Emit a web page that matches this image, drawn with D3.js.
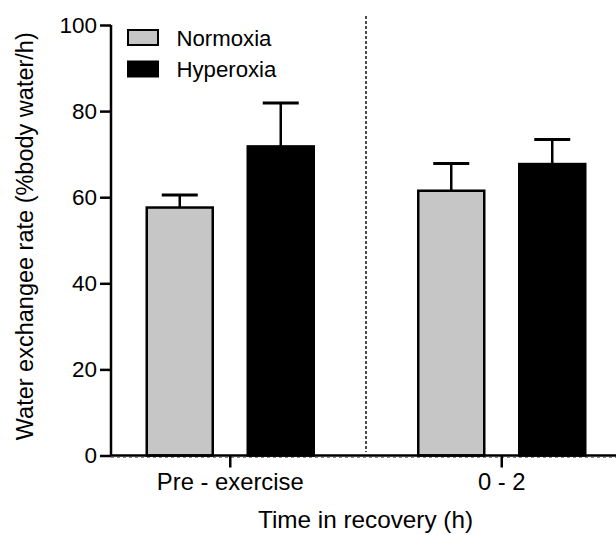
<!DOCTYPE html>
<html><head><meta charset="utf-8">
<script src="https://cdn.jsdelivr.net/npm/d3@7"></script>
<style>body{margin:0;background:#fff}svg{display:block}text{font-family:"Liberation Sans",Arial,sans-serif;fill:#000}</style>
</head><body>
<script>
const categories = ["Pre - exercise", "0 - 2"];
const seriesNames = ["Normoxia", "Hyperoxia"];
const normoxiaMean = [57.6, 61.5];
const normoxiaErr = [2.9, 6.3];
const hyperoxiaMean = [71.8, 67.7];
const hyperoxiaErr = [10.1, 5.7];
const yTicks = [0, 20, 40, 60, 80, 100];
const colors = {"Normoxia": "#c6c6c6", "Hyperoxia": "#000000"};

const W = 616, H = 535;
const svg = d3.select("body").append("svg").attr("width", W).attr("height", H);

const axisX = 111, axisRight = 616;
const y = d3.scaleLinear().domain([0, 100]).range([455.5, 25]);
const x = d3.scaleBand().domain(categories).range([94.5, 637.5]).paddingInner(0).paddingOuter(0);
const xs = d3.scaleBand().domain(seriesNames).range([-83.5, 83.5]).paddingInner(35 / 101).paddingOuter(0);

const data = [];
categories.forEach((c, i) => {
  data.push({cat: c, s: "Normoxia", v: normoxiaMean[i], e: normoxiaErr[i]});
  data.push({cat: c, s: "Hyperoxia", v: hyperoxiaMean[i], e: hyperoxiaErr[i]});
});
const cx = d => x(d.cat) + x.bandwidth() / 2;

// divider
const divX = (cx({cat: categories[0]}) + cx({cat: categories[1]})) / 2;
svg.append("line").attr("x1", divX).attr("x2", divX).attr("y1", 16).attr("y2", 452)
  .attr("stroke", "#000").attr("stroke-width", 1.4).attr("stroke-dasharray", "3,2");

// error bars
data.forEach(d => {
  const bx = cx(d) + xs(d.s) + xs.bandwidth() / 2;
  svg.append("line").attr("x1", bx).attr("x2", bx).attr("y1", y(d.v)).attr("y2", y(d.v + d.e))
    .attr("stroke", "#000").attr("stroke-width", 2.5);
  svg.append("line").attr("x1", bx - 18).attr("x2", bx + 18).attr("y1", y(d.v + d.e)).attr("y2", y(d.v + d.e))
    .attr("stroke", "#000").attr("stroke-width", 3);
});

// bars
svg.selectAll("rect.bar").data(data).enter().append("rect").attr("class", "bar")
  .attr("x", d => cx(d) + xs(d.s))
  .attr("width", xs.bandwidth())
  .attr("y", d => y(d.v))
  .attr("height", d => y(0) - y(d.v))
  .attr("fill", d => colors[d.s])
  .attr("stroke", "#000").attr("stroke-width", 2.5);

// x axis
svg.append("line").attr("x1", axisX).attr("x2", axisRight).attr("y1", y(0)).attr("y2", y(0))
  .attr("stroke", "#000").attr("stroke-width", 2.5);
svg.append("line").attr("x1", axisX).attr("x2", axisRight).attr("y1", y(0) + 2).attr("y2", y(0) + 2)
  .attr("stroke", "#888").attr("stroke-width", 1).attr("stroke-dasharray", "3,3");
categories.forEach(c => {
  const t = cx({cat: c});
  svg.append("line").attr("x1", t).attr("x2", t).attr("y1", y(0)).attr("y2", y(0) + 12)
    .attr("stroke", "#000").attr("stroke-width", 2.5);
  svg.append("text").attr("x", t).attr("y", 490).attr("text-anchor", "middle")
    .attr("font-size", 23.8).text(c);
});
svg.append("text").attr("x", (axisX + axisRight) / 2 + 2).attr("y", 528).attr("text-anchor", "middle")
  .attr("font-size", 24.3).text("Time in recovery (h)");

// y axis
const yAxis = d3.axisLeft(y).tickValues(yTicks).tickSize(11).tickPadding(3);
const ga = svg.append("g").attr("transform", `translate(${axisX},0)`).call(yAxis);
ga.select(".domain").attr("stroke", "#000").attr("stroke-width", 2.5).attr("d", `M0,${y(100)}V${y(0)}`);
ga.selectAll(".tick line").attr("stroke", "#000").attr("stroke-width", 2.5);
ga.selectAll(".tick text").attr("font-size", 22.5).attr("font-family", '"Liberation Sans",Arial,sans-serif').attr("fill", "#000");

svg.append("text").attr("transform", `translate(33,${(y(0) + y(100)) / 2 - 4}) rotate(-90)`)
  .attr("text-anchor", "middle").attr("font-size", 23.5).text("Water exchangee rate (%body water/h)");

// legend
seriesNames.forEach((s, i) => {
  const ly = 30 + i * 31.5;
  svg.append("rect").attr("x", 128).attr("y", ly).attr("width", 30).attr("height", 15)
    .attr("fill", colors[s]).attr("stroke", "#000").attr("stroke-width", 2);
  svg.append("text").attr("x", 176.5).attr("y", ly + 15.5).attr("font-size", 22.2).text(s);
});
</script>
</body></html>
